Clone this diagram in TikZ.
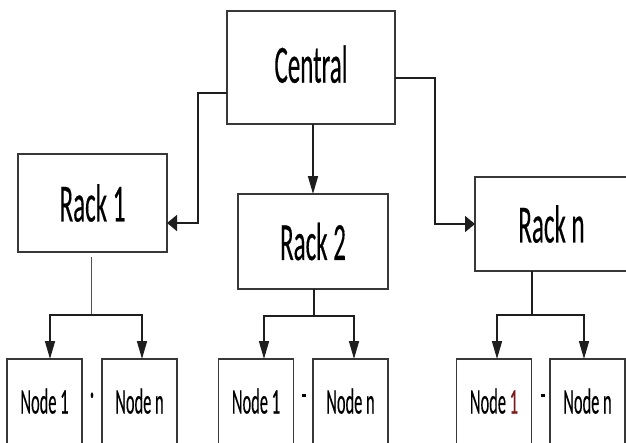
\documentclass[tikz,border=0pt]{standalone}
\usepackage{graphicx}
\usepackage{fontspec}
\setmainfont{Carlito}
\newfontfamily\dfont[FakeBold=0.4]{Carlito}
\usetikzlibrary{arrows.meta}
\definecolor{boxc}{HTML}{383838}
\definecolor{linec}{HTML}{1E1E1E}
\definecolor{thinc}{HTML}{505050}
\definecolor{onered}{HTML}{7A1A1A}
\newcommand{\stxt}[3]{\scalebox{1}[#2]{\fontsize{#1}{#1}\dfont #3}}
\begin{document}
\begin{tikzpicture}[x=1pt,y=-1pt,
  box/.style={draw=boxc, line width=1.4pt, inner sep=0pt, outer sep=0pt, fill=white},
  bigbox/.style={box},
  smallbox/.style={box, minimum width=75pt, minimum height=90pt},
  hedge/.style={draw=boxc, line width=2.6pt},
  conn/.style={draw=linec, line width=1.6pt},
  arrV/.style={conn, -{Triangle[width=10pt,length=18pt]}},
  arrH/.style={conn, -{Triangle[width=16pt,length=10pt]}},
  thinline/.style={draw=thinc, line width=0.8pt},
  midline/.style={draw=linec, line width=1.2pt},
  sep/.style={inner sep=0pt}
]
\useasboundingbox (0,0) rectangle (626,442);
\clip (0,0) rectangle (626,442);

% main boxes
\node[bigbox, minimum width=168pt, minimum height=113pt] (cen) at (311,67.5)
  {\raisebox{7pt}{\stxt{25}{2.15}{Central}}};
\node[bigbox, minimum width=149pt, minimum height=98pt] (r1) at (92.5,203)
  {\stxt{25}{2.15}{Rack 1}};
\node[bigbox, minimum width=150pt, minimum height=95pt] (r2) at (313,241.5)
  {\stxt{25}{2.15}{Rack 2}};
\node[bigbox, minimum width=153pt, minimum height=94pt] (rn) at (551.5,224)
  {\stxt{25}{2.15}{Rack n}};

% leaf boxes
\node[smallbox] (n11) at (44.5,404) {\raisebox{6pt}{\stxt{16.4}{2.2}{Node 1}}};
\node[smallbox] (n1n) at (139.5,404) {\raisebox{6pt}{\stxt{16.4}{2.2}{Node n}}};
\node[smallbox] (n21) at (256,404) {\raisebox{6pt}{\stxt{16.4}{2.2}{Node 1}}};
\node[smallbox] (n2n) at (350.5,404) {\raisebox{6pt}{\stxt{16.4}{2.2}{Node n}}};
\node[smallbox] (n31) at (494,404) {\raisebox{6pt}{\stxt{16.4}{2.2}{Node \textcolor{onered}{1}}}};
\node[smallbox] (n3n) at (587.5,404) {\raisebox{6pt}{\stxt{16.4}{2.2}{Node n}}};

% thicker horizontal edges of the boxes
\foreach \b in {cen,r1,r2,rn,n11,n1n,n21,n2n,n31,n3n}
  \draw[hedge] (\b.north west) -- (\b.north east) (\b.south west) -- (\b.south east);

% separators
\node[sep] (s1) at (92,399) {\stxt{16.4}{2.2}{·}};
\node[sep] (s2) at (304,400) {\stxt{16.4}{2.2}{-}};
\node[sep] (s3) at (543,400) {\stxt{16.4}{2.2}{-}};

% central to racks
\draw[arrH] ([yshift=-25.5pt]cen.west) -- ++(-29,0) |- ([yshift=-20pt]r1.east);
\draw[arrH] ([yshift=-10.5pt]cen.east) -- ++(40,0) |- (rn.west);
\draw[arrV] (r2.north |- cen.south) -- (r2.north);

% rack 1 to nodes
\coordinate (j1) at (91,315);
\draw[thinline] ([yshift=-5pt]r1.south -| j1) -- (j1);
\draw[arrV] (j1) -| ([xshift=5.5pt]n11.north);
\draw[arrV] (j1) -| ([xshift=2.5pt]n1n.north);

% rack 2 to nodes
\coordinate (j2) at (314,316);
\draw[midline] (r2.south -| j2) -- (j2);
\draw[arrV] (j2) -| ([xshift=8pt]n21.north);
\draw[arrV] (j2) -| ([xshift=3.5pt]n2n.north);

% rack n to nodes
\coordinate (j3) at (532,315);
\draw[midline] (rn.south -| j3) -- (j3);
\draw[arrV] (j3) -| ([xshift=3pt]n31.north);
\draw[arrV] (j3) -| ([xshift=-3.5pt]n3n.north);
\end{tikzpicture}
\end{document}
